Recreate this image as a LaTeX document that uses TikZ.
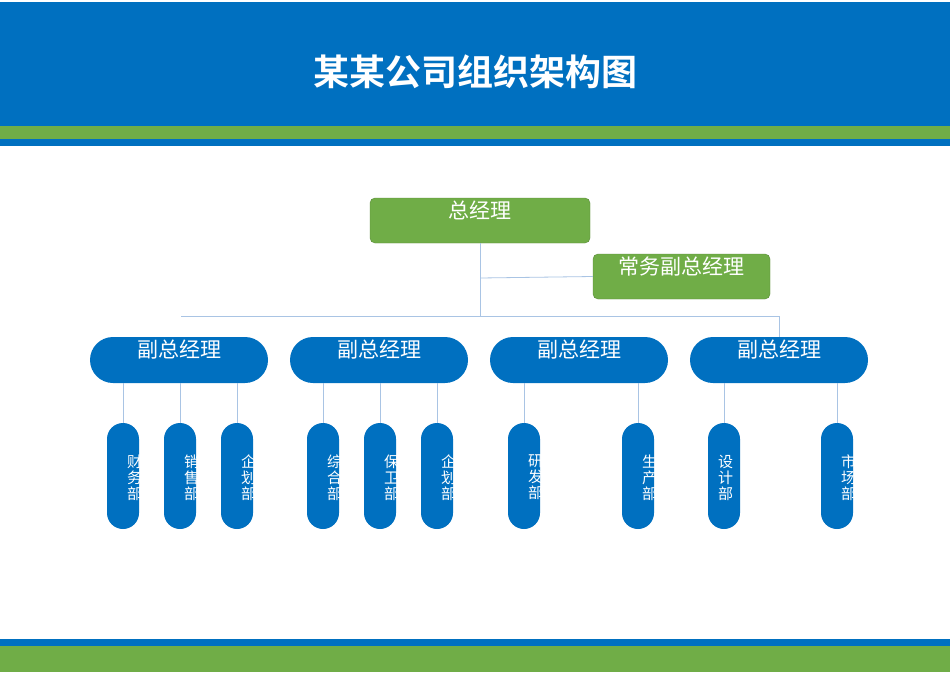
\documentclass[tikz,border=0pt]{standalone}
\usepackage{fontspec}
\newfontfamily\cjk{Noto Sans CJK SC}
\newfontfamily\cjkb{Noto Sans CJK SC Bold}
\definecolor{bblue}{HTML}{0070C0}
\definecolor{ggreen}{HTML}{70AD47}
\definecolor{lline}{HTML}{A9C4E4}
\tikzset{
 gbox/.style={fill=ggreen,draw=ggreen!80!black,line width=0.4pt,rounded corners=5pt},
 vp/.style={fill=bblue,draw=none,rounded corners=23pt,minimum width=178pt,minimum height=46pt},
 dep/.style={fill=bblue,draw=none,rounded corners=16pt,minimum width=32pt,minimum height=106pt},
 conn/.style={draw=lline,line width=0.8pt},
 wt/.style={text=white,font=\cjk,inner sep=0pt}
}
\newcommand{\mydept}[4]{%
 \node[dep] (#1) at (#2,476) {};
 \begin{scope}
 \clip[rounded corners=16pt] (#2-16,423) rectangle (#2+16,529);
 \node[wt,anchor=north west,font=\cjk\fontsize{15}{16}\selectfont,align=left] at (#2+#3,455) {#4};
 \end{scope}}
\begin{document}
\begin{tikzpicture}[x=1pt,y=-1pt]
\useasboundingbox (0,0) rectangle (950,672);
\fill[white] (0,0) rectangle (950,672);
\fill[bblue] (0,2) rectangle (950,126);
\fill[ggreen] (0,126) rectangle (950,139);
\fill[bblue] (0,139) rectangle (950,146);
\fill[bblue] (0,639) rectangle (950,646);
\fill[ggreen] (0,646) rectangle (950,672);
\node[text=white,font=\cjkb\fontsize{36}{40}\selectfont] (title) at (475,72) {某某公司组织架构图};
\node[gbox,minimum width=220pt,minimum height=45pt] (gm) at (480,220.5) {};
\node[wt,font=\cjk\fontsize{21}{22}\selectfont] at (480,210) {总经理};
\node[gbox,minimum width=177pt,minimum height=45pt] (cm) at (681.5,276.5) {};
\node[wt,font=\cjk\fontsize{21}{22}\selectfont] at (681.5,267) {常务副总经理};
\coordinate (j) at (480,316);
\coordinate (l) at (181,316);
\coordinate (r) at (779,316);
\draw[conn] (gm.south) -- (j);
\draw[conn] (480,278) -- (cm.west);
\draw[conn] (l) -- (r) -- (779,337);
\foreach \n/\x in {v1/179,v2/379,v3/579,v4/779}{
 \node[vp] (\n) at (\x,360) {};
 \node[wt,font=\cjk\fontsize{21}{22}\selectfont] at (\x,350) {副总经理};
}
\mydept{d1}{123}{4}{财\\务\\部}
\mydept{d2}{180}{4}{销\\售\\部}
\mydept{d3}{237}{4}{企\\划\\部}
\mydept{d4}{323}{4}{综\\合\\部}
\mydept{d5}{380}{4}{保\\卫\\部}
\mydept{d6}{437}{4}{企\\划\\部}
\mydept{d7}{524}{4}{研\\发\\部}
\mydept{d8}{638}{4}{生\\产\\部}
\mydept{d9}{724}{-6}{设\\计\\部}
\mydept{d10}{837}{4}{市\\场\\部}
\foreach \d in {d1,d2,d3,d4,d5,d6,d7,d8,d9,d10}{
 \draw[conn] (\d.north |- 0,383) -- (\d.north);
}
\end{tikzpicture}
\end{document}
